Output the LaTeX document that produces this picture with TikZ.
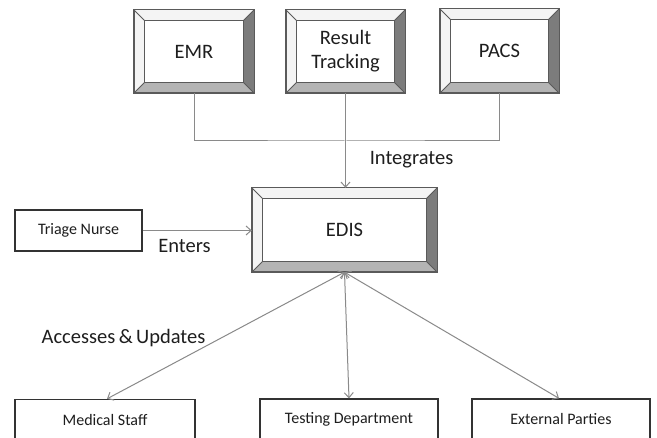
\documentclass[tikz,border=0pt]{standalone}
\usepackage{fontspec}
\setmainfont{Carlito}
\usetikzlibrary{arrows.meta,calc}
\definecolor{bvline}{HTML}{5A5A5A}
\definecolor{bvlight}{HTML}{F4F4F4}
\definecolor{bvright}{HTML}{7C7C7C}
\definecolor{bvbottom}{HTML}{B4B4B4}
\definecolor{conn}{HTML}{8A8A8A}
\definecolor{txt}{HTML}{1E1E1E}
\newcommand\bevelit[1]{%
  \fill[bvlight] (#1.north west) -- (#1.north east) -- ($(#1.north east)+(-10.5,10.5)$) -- ($(#1.north west)+(10.5,10.5)$) -- cycle;
  \fill[bvlight] (#1.north west) -- ($(#1.north west)+(10.5,10.5)$) -- ($(#1.south west)+(10.5,-10.5)$) -- (#1.south west) -- cycle;
  \fill[bvright] (#1.north east) -- ($(#1.north east)+(-10.5,10.5)$) -- ($(#1.south east)+(-10.5,-10.5)$) -- (#1.south east) -- cycle;
  \fill[bvbottom] (#1.south west) -- ($(#1.south west)+(10.5,-10.5)$) -- ($(#1.south east)+(-10.5,-10.5)$) -- (#1.south east) -- cycle;
  \draw[bvline,line width=1.4pt] (#1.north west) rectangle (#1.south east);
  \draw[bvline,line width=1.4pt] ($(#1.north west)+(10.5,10.5)$) rectangle ($(#1.south east)+(-10.5,-10.5)$);
  \draw[bvline,line width=1pt] (#1.north west) -- ($(#1.north west)+(10.5,10.5)$)
    (#1.north east) -- ($(#1.north east)+(-10.5,10.5)$)
    (#1.south west) -- ($(#1.south west)+(10.5,-10.5)$)
    (#1.south east) -- ($(#1.south east)+(-10.5,-10.5)$);
}
\begin{document}
\begin{tikzpicture}[x=1pt,y=-1pt,
  bevelbox/.style={inner sep=0pt, align=center, text=txt,
    font=\fontsize{20.5}{24}\selectfont},
  plainbox/.style={draw=black!80, line width=1.3pt, inner sep=0pt, text=txt,
    minimum width=178pt, minimum height=41pt, font=\fontsize{16}{19}\selectfont},
  conline/.style={draw=conn, line width=1pt},
  conarrow/.style={conline, -{Straight Barb[length=5pt,width=9pt]}},
  biarrow/.style={conline, {Straight Barb[length=5pt,width=9pt]}-{Straight Barb[length=5pt,width=9pt]}},
  lbl/.style={text=txt, font=\fontsize{20.5}{24}\selectfont, inner sep=0pt}]
\clip (0,0) rectangle (657,438);
\fill[white] (0,0) rectangle (657,438);

\node[bevelbox, minimum width=120pt, minimum height=83pt] (emr) at (194,51.5) {EMR};
\node[bevelbox, minimum width=119pt, minimum height=83pt] (rt) at (345.5,51.5) {Result\\Tracking};
\node[bevelbox, minimum width=119pt, minimum height=84pt] (pacs) at (499.5,51) {PACS};
\node[bevelbox, minimum width=185pt, minimum height=84pt] (edis) at (344.5,230) {EDIS};
\bevelit{emr}
\bevelit{rt}
\bevelit{pacs}
\bevelit{edis}

\node[plainbox, minimum width=127pt] (nurse) at (78.5,230.5) {Triage Nurse};
\node[plainbox, minimum width=180pt] (med) at (105,420) {Medical Staff};
\node[plainbox] (test) at (349,419.5) {Testing Department};
\node[plainbox] (ext) at (561,419.5) {External Parties};

\coordinate (j) at (345.5,141);
\draw[conline] (emr.south) |- (j) -| (pacs.south);
\draw[conarrow] (rt.south) -- (rt.south |- edis.north);
\draw[conarrow] (nurse.east) -- (nurse.east -| edis.west);
\draw[biarrow] (edis.south) -- ($(med.north)+(2,0)$);
\draw[biarrow] (edis.south) -- (test.north);
\draw[biarrow] (edis.south) -- ($(ext.north)+(-2,0)$);

\node[lbl] (integ) at (411.5,159.5) {Integrates};
\node[lbl] (enters) at (184.5,246) {Enters};
\node[lbl] (acc) at (123.5,338) {Accesses\,\&\,Updates};
\end{tikzpicture}
\end{document}
